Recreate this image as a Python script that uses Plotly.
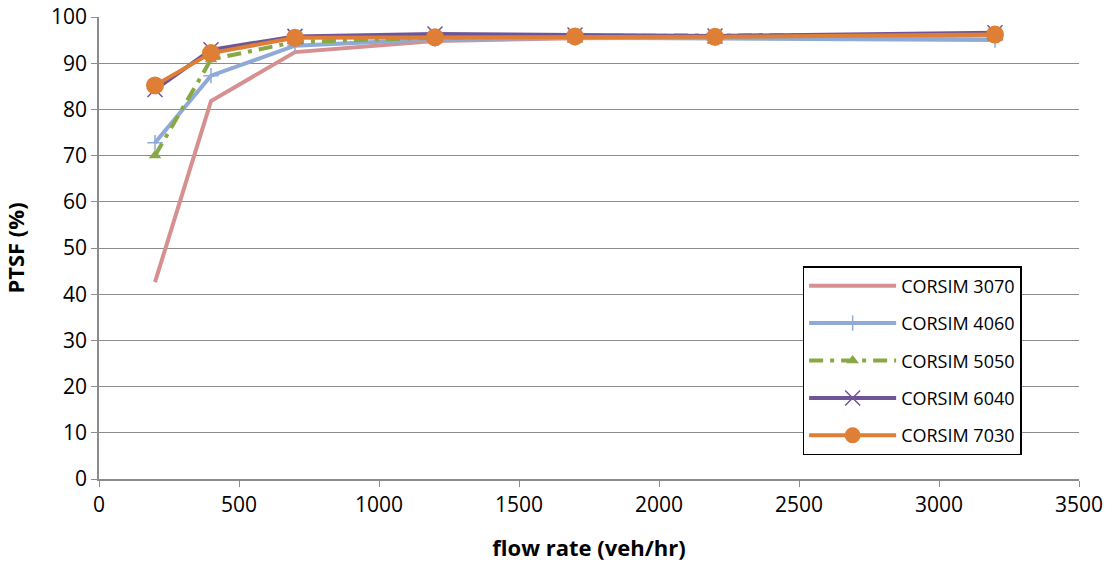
import plotly.graph_objects as go

flow = [200, 400, 700, 1200, 1700, 2200, 3200]
s3070 = [42.6, 81.8, 92.4, 94.8, 95.4, 95.5, 96.0]
s4060 = [72.8, 87.3, 93.8, 95.2, 95.5, 95.4, 95.0]
s5050 = [70.0, 90.8, 94.6, 95.5, 95.9, 96.0, 96.2]
s6040 = [84.3, 92.9, 95.8, 96.3, 96.1, 95.9, 96.6]
s7030 = [85.2, 92.2, 95.5, 95.6, 95.8, 95.7, 96.2]

names = ["CORSIM 3070", "CORSIM 4060", "CORSIM 5050", "CORSIM 6040", "CORSIM 7030"]
series = [s3070, s4060, s5050, s6040, s7030]
colors = ["#D69090", "#8FAAD6", "#88A845", "#6F5597", "#DE7F35"]
dashes = ["solid", "solid", "14px,7px,4px,7px", "solid", "solid"]
markers = [
    dict(size=1, opacity=0),
    dict(symbol="cross-thin-open", size=11, line=dict(width=1.5, color=colors[1])),
    dict(symbol="triangle-up", size=11, color=colors[2]),
    dict(symbol="x-thin-open", size=15, line=dict(width=1.5, color=colors[3])),
    dict(symbol="circle", size=18, color=colors[4]),
]

fig = go.Figure()
for i, (n, s) in enumerate(zip(names, series)):
    fig.add_trace(go.Scatter(
        x=flow, y=s, name=n, mode="lines+markers" if i > 0 else "lines",
        line=dict(color=colors[i], width=4, dash=dashes[i]),
        marker=markers[i] if i > 0 else None,
        legendgroup=n,
    ))

font = "'Open Sans', sans-serif"
fig.update_layout(
    width=1108, height=562,
    margin=dict(l=99, r=29, t=17, b=83),
    paper_bgcolor="white", plot_bgcolor="white",
    font=dict(family=font, size=20, color="#000000"),
    showlegend=True,
    legend=dict(
        x=0.718, y=0.461, xanchor="left", yanchor="top",
        bgcolor="white", bordercolor="#000000", borderwidth=1.5,
        font=dict(size=18, family=font),
        traceorder="grouped", tracegroupgap=11,
        itemwidth=87, entrywidth=160,
    ),
    xaxis=dict(
        range=[0, 3500], dtick=500, tick0=0, automargin=False,
        showgrid=False, zeroline=False,
        showline=True, linecolor="#8c8c8c", linewidth=1.5,
        ticks="outside", ticklen=6, tickcolor="#8c8c8c", tickwidth=1,
        tickfont=dict(size=21), ticklabeloverflow="allow",
        title=dict(text="<b>flow rate (veh/hr)</b>", font=dict(size=22), standoff=24),
    ),
    yaxis=dict(
        range=[0, 100], dtick=10, tick0=0, automargin=False,
        showgrid=True, gridcolor="#8c8c8c", gridwidth=1.3,
        zeroline=False,
        showline=True, linecolor="#8c8c8c", linewidth=1.5,
        ticks="outside", ticklen=6, tickcolor="#8c8c8c", tickwidth=1,
        tickfont=dict(size=21), ticklabeloverflow="allow",
        title=dict(text="<b>PTSF (%)</b>", font=dict(size=22), standoff=21),
    ),
)

fig.write_html("out.html", config={"displayModeBar": False},
               post_script="document.body.style.margin='0';")
